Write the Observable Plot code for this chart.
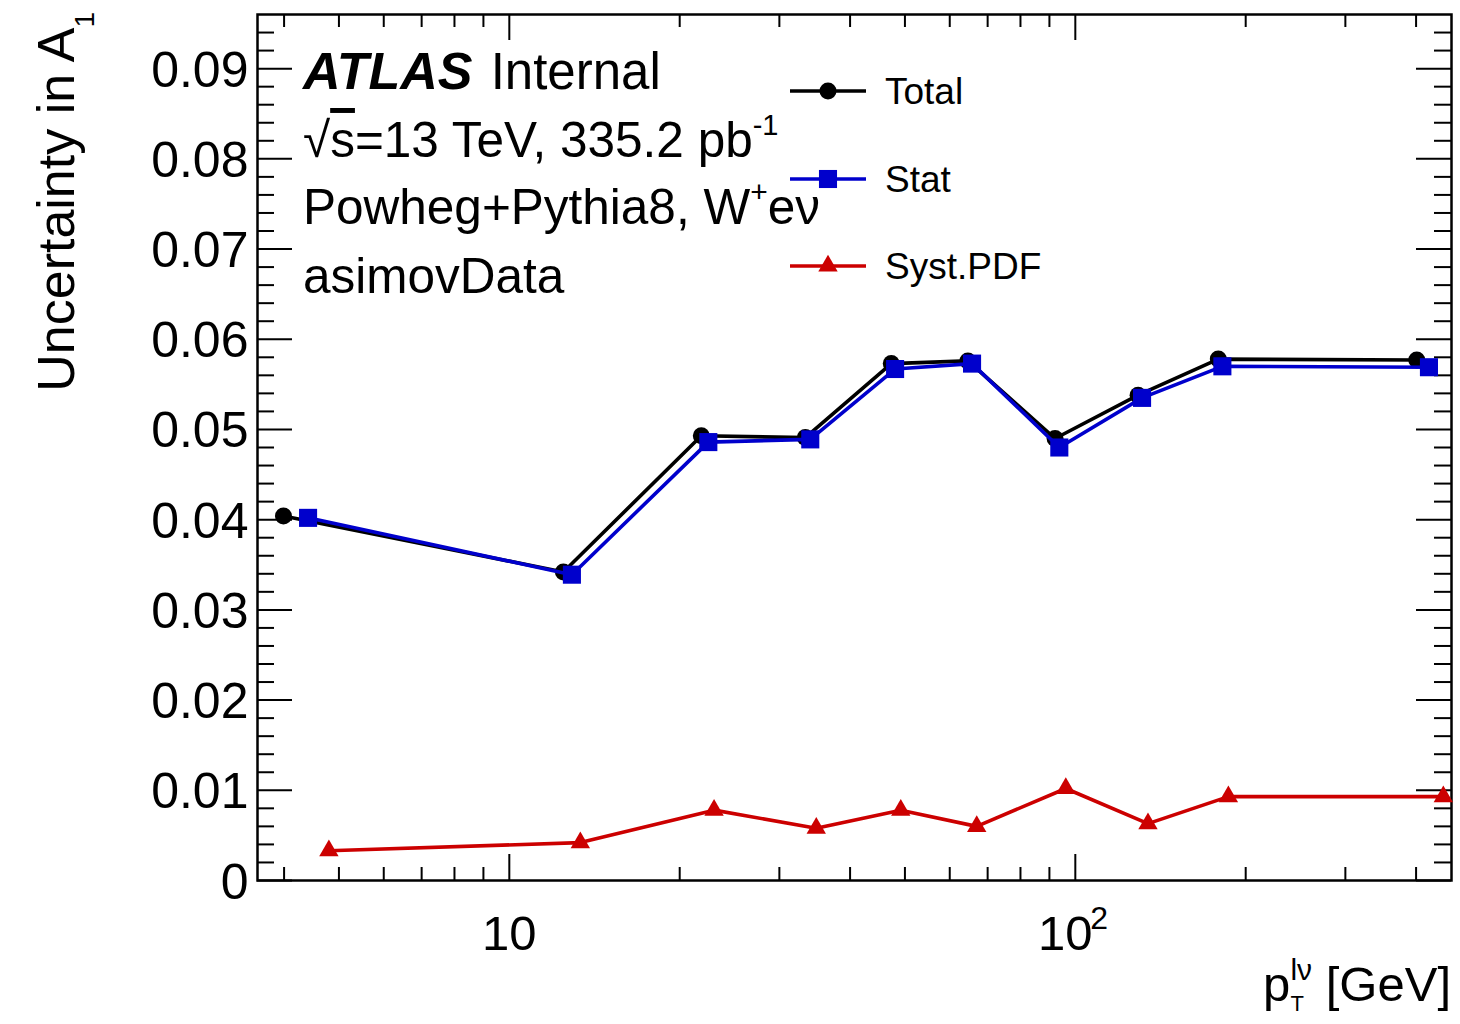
<!DOCTYPE html>
<html>
<head>
<meta charset="utf-8">
<script src="https://cdn.jsdelivr.net/npm/d3@7"></script>
<script src="https://cdn.jsdelivr.net/npm/@observablehq/plot@0.6"></script>
<style>
html, body { margin: 0; padding: 0; background: #fff; overflow: hidden; }
</style>
</head>
<body>
<div id="chart"></div>
<script>
// ---------------- data ----------------
const seriesNames = ["Total", "Stat", "Syst.PDF"];
const totalX = [3.99, 12.46, 21.84, 33.34, 47.3, 64.6, 92.1, 129.1, 178.9, 401.1];
const totalY = [0.0404, 0.0342, 0.0493, 0.0491, 0.0573, 0.0576, 0.0490, 0.0538, 0.0578, 0.0577];
const statX  = [4.41, 12.90, 22.47, 34.02, 48.04, 65.7, 93.7, 131.2, 181.9, 421.5];
const statY  = [0.0402, 0.0339, 0.0486, 0.0489, 0.0567, 0.0573, 0.0480, 0.0535, 0.0570, 0.0569];
const systX  = [4.80, 13.35, 23.0, 34.86, 49.16, 66.96, 96.2, 134.4, 186.4, 446.9];
const systY  = [0.0033, 0.0042, 0.0078, 0.0058, 0.0078, 0.0060, 0.0102, 0.0063, 0.0093, 0.0093];

const xDomain = [3.59, 462];
const yDomain = [0, 0.096];
const yMajorTicks = [0, 0.01, 0.02, 0.03, 0.04, 0.05, 0.06, 0.07, 0.08, 0.09];
const yTickLabels = ["0", "0.01", "0.02", "0.03", "0.04", "0.05", "0.06", "0.07", "0.08", "0.09"];
const yMinorTicks = [0.002, 0.004, 0.006, 0.008, 0.012, 0.014, 0.016, 0.018, 0.022, 0.024, 0.026, 0.028,
  0.032, 0.034, 0.036, 0.038, 0.042, 0.044, 0.046, 0.048, 0.052, 0.054, 0.056, 0.058,
  0.062, 0.064, 0.066, 0.068, 0.072, 0.074, 0.076, 0.078, 0.082, 0.084, 0.086, 0.088, 0.092, 0.094];
const xMajorTicks = [10, 100];
const xTickBase = ["10", "10"];
const xTickExp = ["", "2"];
const xMinorTicks = [4, 5, 6, 7, 8, 9, 20, 30, 40, 50, 60, 70, 80, 90, 200, 300, 400];

const annotationLines = ["ATLAS", "Internal", "√s=13 TeV, 335.2 pb", "-1", "Powheg+Pythia8, W", "+", "eν", "asimovData"];
const xTitleParts = ["p", "T", "lν", " [GeV]"];
const yTitleParts = ["Uncertainty in A", "1"];

// ---------------- styles / layout ----------------
const colors = ["#000000", "#0000cc", "#cc0000"];
const symbols = ["circle", "square", "triangle"];
const radii = [8.5, 10.2, 7.2];
const W = 1460, H = 1024;
const mL = 257, mR = 9, mT = 14, mB = 144;
const fw = W - mL - mR, fh = H - mT - mB;

const xs = [totalX, statX, systX], ys = [totalY, statY, systY];
const seriesData = seriesNames.map((name, i) => xs[i].map((x, j) => ({series: name, x, y: ys[i][j]})));

const tickStyle = {stroke: "black", strokeWidth: 2};
const dataMarks = [];
seriesData.forEach((d, i) => {
  dataMarks.push(Plot.line(d, {x: "x", y: "y", stroke: colors[i], strokeWidth: 3.6}));
  dataMarks.push(Plot.dot(d, {x: "x", y: "y", symbol: symbols[i], r: radii[i], fill: colors[i], stroke: "none"}));
});

const plot = Plot.plot({
  width: W, height: H,
  marginLeft: mL, marginRight: mR, marginTop: mT, marginBottom: mB,
  style: {fontFamily: "'Liberation Sans', Arial, Helvetica, sans-serif", background: "white", color: "black"},
  x: {type: "log", domain: xDomain, axis: null},
  y: {domain: yDomain, axis: null},
  marks: [
    Plot.tickY(yMajorTicks, {y: d => d, insetRight: fw - 35, ...tickStyle}),
    Plot.tickY(yMajorTicks, {y: d => d, insetLeft: fw - 35, ...tickStyle}),
    Plot.tickY(yMinorTicks, {y: d => d, insetRight: fw - 17, ...tickStyle}),
    Plot.tickY(yMinorTicks, {y: d => d, insetLeft: fw - 17, ...tickStyle}),
    Plot.tickX(xMajorTicks, {x: d => d, insetTop: fh - 26, ...tickStyle}),
    Plot.tickX(xMajorTicks, {x: d => d, insetBottom: fh - 26, ...tickStyle}),
    Plot.tickX(xMinorTicks, {x: d => d, insetTop: fh - 13, ...tickStyle}),
    Plot.tickX(xMinorTicks, {x: d => d, insetBottom: fh - 13, ...tickStyle}),
    Plot.frame({stroke: "black", strokeWidth: 2.5}),
    ...dataMarks,
    // tick labels
    Plot.text(yMajorTicks, {y: d => d, text: (d, i) => yTickLabels[i], frameAnchor: "left", textAnchor: "end",
      lineAnchor: "middle", dx: -9, dy: 2, fontSize: 50, fill: "black"}),
    Plot.text([xMajorTicks[0]], {x: d => d, text: () => xTickBase[0], frameAnchor: "bottom", lineAnchor: "top",
      dy: 35, fontSize: 49, fill: "black"}),
    Plot.text([xMajorTicks[1]], {x: d => d, text: () => xTickBase[1], frameAnchor: "bottom", lineAnchor: "top",
      dy: 35, dx: -10, fontSize: 49, fill: "black"}),
    Plot.text([xMajorTicks[1]], {x: d => d, text: () => xTickExp[1], frameAnchor: "bottom", lineAnchor: "top",
      dy: 26, dx: 15, textAnchor: "start", fontSize: 32, fill: "black"})
  ]
});
document.getElementById("chart").appendChild(plot);

// ---------------- rich text annotations ----------------
const svg = d3.select(plot);
function addText(x, y, parts, {anchor = "start", size = 49, rotate = null} = {}) {
  const t = svg.append("text").attr("x", x).attr("y", y).attr("text-anchor", anchor)
    .attr("font-size", size).attr("fill", "black");
  if (rotate != null) t.attr("transform", `rotate(${rotate},${x},${y})`);
  let cur = 0;
  for (const p of parts) {
    const sp = t.append("tspan").text(p.t);
    const off = p.off || 0;
    if (off !== cur) sp.attr("dy", off - cur);
    cur = off;
    if (p.dx) sp.attr("dx", p.dx);
    if (p.size) sp.attr("font-size", p.size);
    if (p.weight) sp.attr("font-weight", p.weight);
    if (p.style) sp.attr("font-style", p.style);
    if (p.deco) sp.attr("text-decoration", p.deco);
  }
  return t;
}

addText(303, 89, [{t: annotationLines[0], weight: "bold", style: "italic", size: 52}, {t: " " + annotationLines[1], dx: 4}], {size: 51});
addText(303, 157, [{t: "√"}, {t: "s", deco: "overline"}, {t: annotationLines[2].slice(2)},
  {t: annotationLines[3], size: 29, off: -22}], {size: 49.5});
addText(303, 224, [{t: annotationLines[4]}, {t: annotationLines[5], size: 30, off: -22}, {t: annotationLines[6]}], {size: 49.5});
addText(303, 293, [{t: annotationLines[7]}], {size: 49.5});

// x-axis title: p with sub T and super lν
addText(1451, 1001, [{t: xTitleParts[0]}, {t: xTitleParts[1], size: 22, off: 10},
  {t: xTitleParts[2], size: 30, off: -21, dx: -13.4}, {t: xTitleParts[3], off: 0}], {anchor: "end", size: 49});
// y-axis title
addText(74, 12, [{t: yTitleParts[0]}, {t: yTitleParts[1], size: 28, off: 20}], {anchor: "end", size: 52, rotate: -90});

// ---------------- legend ----------------
const legendY = [91, 179, 266];
const symTypes = [d3.symbolCircle, d3.symbolSquare, d3.symbolTriangle];
seriesNames.forEach((name, i) => {
  const g = svg.append("g");
  g.append("line").attr("x1", 790).attr("x2", 866).attr("y1", legendY[i]).attr("y2", legendY[i])
    .attr("stroke", colors[i]).attr("stroke-width", 3.6);
  g.append("path").attr("d", d3.symbol().type(symTypes[i]).size(Math.PI * radii[i] * radii[i])())
    .attr("transform", `translate(828,${legendY[i]})`).attr("fill", colors[i]);
  g.append("text").attr("x", 885).attr("y", legendY[i] + 13).attr("text-anchor", "start")
    .attr("font-size", 37).attr("fill", "black").text(name);
});
</script>
</body>
</html>
